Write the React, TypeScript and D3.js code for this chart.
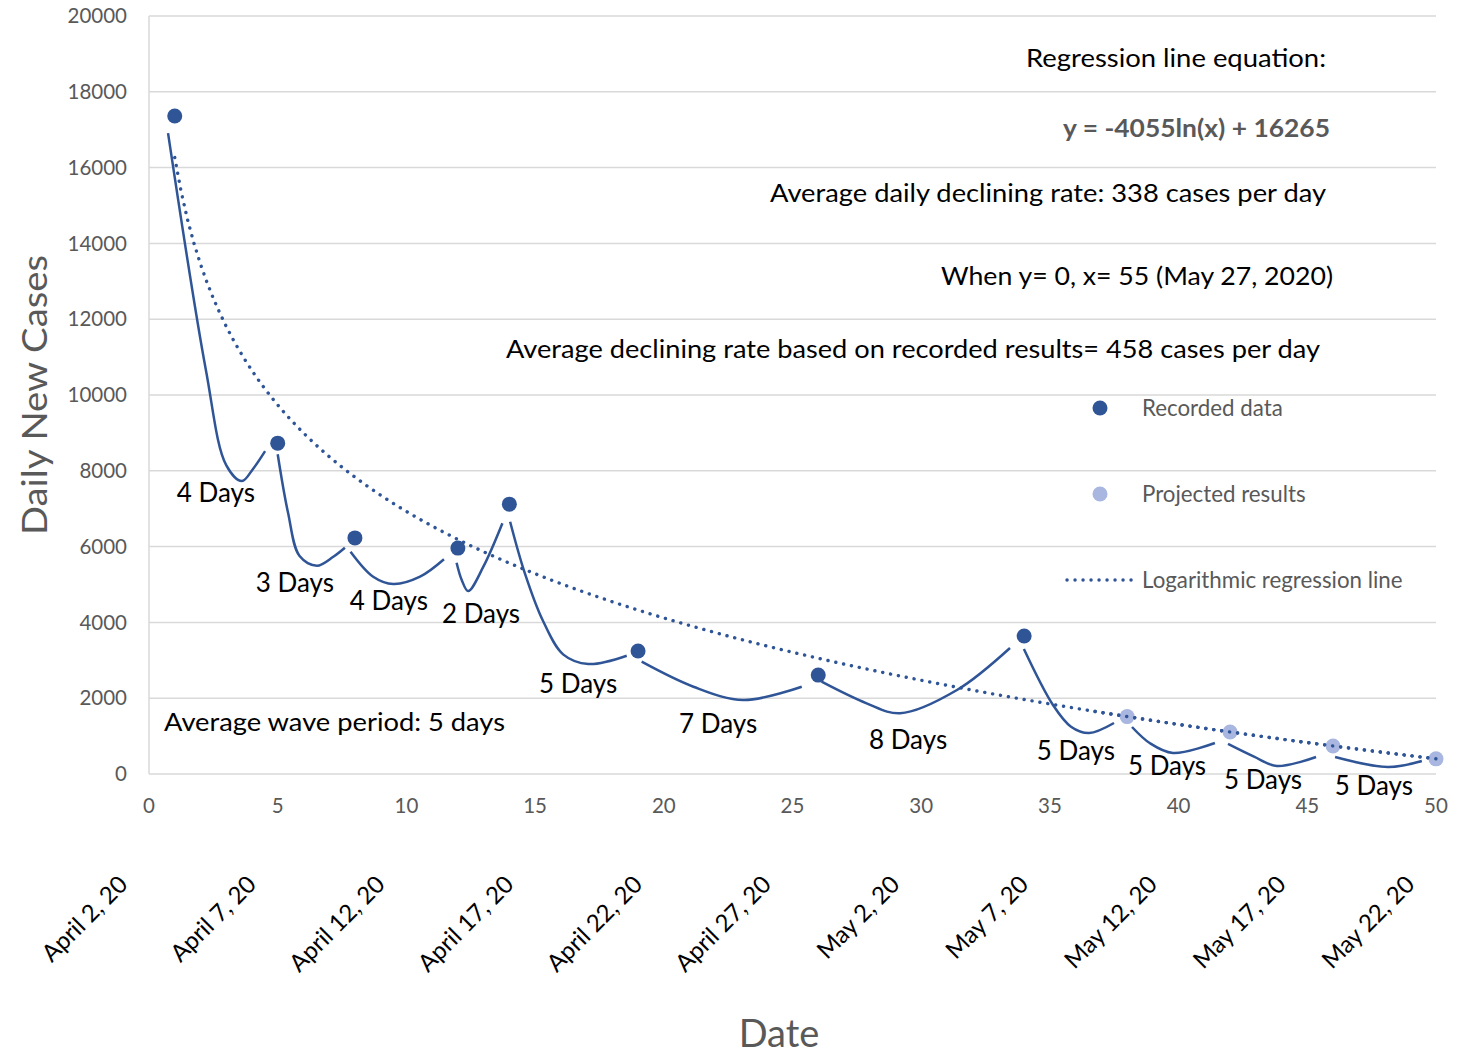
import React from "react";
import * as d3 from "d3";

// ---------- data ----------
const xTicks = [0, 5, 10, 15, 20, 25, 30, 35, 40, 45, 50];
const yTicks = [0, 2000, 4000, 6000, 8000, 10000, 12000, 14000, 16000, 18000, 20000];
const dateLabels = [
  "April 2, 20", "April 7, 20", "April 12, 20", "April 17, 20", "April 22, 20",
  "April 27, 20", "May 2, 20", "May 7, 20", "May 12, 20", "May 17, 20", "May 22, 20",
];
const dateLabelX = [0, 5, 10, 15, 20, 25, 30, 35, 40, 45, 50];

const recordedX = [1, 5, 8, 12, 14, 19, 26, 34];
const recordedY = [17360, 8730, 6230, 5960, 7120, 3245, 2610, 3640];
const projectedX = [38, 42, 46, 50];
const projectedY = [1515, 1110, 740, 400];

// logarithmic regression y = a ln(x) + b (as printed on the chart)
const regA = -4055;
const regB = 16265;
const regX = d3.range(1, 50.01, 0.25);

// hand-drawn wave segments [x, y]
const waves: [number, number][][] = [
  [[0.74, 16910], [2.21, 10660], [3.0, 8150], [3.61, 7730], [4.04, 8050], [4.51, 8520]],
  [[5.0, 8435], [5.4, 6900], [5.85, 5750], [6.52, 5496], [7.16, 5733], [7.61, 5971]],
  [[7.83, 5866], [8.71, 5206], [9.49, 5013], [10.53, 5206], [11.46, 5665]],
  [[11.95, 5575], [12.15, 5119], [12.4, 4828], [12.99, 5470], [13.73, 6615]],
  [[14.03, 6657], [14.6, 5300], [15.3, 4050], [16.1, 3150], [17.07, 2902], [18.56, 3121]],
  [[19.14, 2963], [21.15, 2303], [23.09, 1952], [25.36, 2303]],
  [[26.13, 2435], [27.88, 1865], [29.18, 1602], [31.39, 2216], [33.45, 3324]],
  [[33.99, 3298], [35.12, 1821], [35.82, 1249], [36.52, 1082], [37.49, 1346]],
  [[38.19, 1240], [38.89, 810], [39.78, 554], [41.41, 818]],
  [[41.92, 792], [42.93, 457], [43.82, 211], [45.34, 449]],
  [[46.08, 449], [48.13, 185], [49.45, 343]],
];

const waveLabels = ["4 Days", "3 Days", "4 Days", "2 Days", "5 Days", "7 Days", "8 Days", "5 Days", "5 Days", "5 Days", "5 Days"];
const waveLabelX = [2.6, 5.67, 9.32, 12.9, 16.67, 22.11, 29.49, 36.01, 39.55, 43.28, 47.59];
const waveLabelY = [7414, 5040, 4565, 4222, 2375, 1319, 897, 607, 211, -158, -317];

// ---------- styles ----------
const FONT = "Lato, 'Open Sans', sans-serif";
const BLUE = "#2F5597";
const LIGHT = "#A9B7E0";
const GREY = "#595959";
const GRID = "#D9D9D9";

export default function App() {
  const W = 1474, H = 1054;
  const x = d3.scaleLinear().domain([0, 50]).range([149, 1436]);
  const y = d3.scaleLinear().domain([0, 20000]).range([774, 16]);

  const waveLine = d3.line<[number, number]>()
    .x((d) => x(d[0]))
    .y((d) => y(d[1]))
    .curve(d3.curveCatmullRom.alpha(0.5));

  const regLine = d3.line<number>()
    .x((d) => x(d))
    .y((d) => y(regA * Math.log(d) + regB));

  const dots = { fill: "none", stroke: BLUE, strokeWidth: 3.4, strokeDasharray: "0.1 7.9", strokeLinecap: "round" as const };

  return (
    <svg width={W} height={H} style={{ position: "absolute", left: 0, top: 0, background: "#fff" }} fontFamily={FONT}>
      <rect width={W} height={H} fill="#fff" />
      {/* gridlines */}
      {yTicks.map((t) => (
        <line key={t} x1={x(0)} x2={x(50)} y1={y(t)} y2={y(t)} stroke={GRID} strokeWidth={1.5} />
      ))}
      <line x1={x(0)} x2={x(0)} y1={y(0)} y2={y(20000)} stroke={GRID} strokeWidth={1.5} />

      {/* y tick labels */}
      {yTicks.map((t) => (
        <text key={t} x={127} y={y(t)} dy="0.35em" textAnchor="end" fontSize={20.5} fill={GREY}>{t}</text>
      ))}
      {/* x tick labels */}
      {xTicks.map((t) => (
        <text key={t} x={x(t)} y={806} dy="0.35em" textAnchor="middle" fontSize={20.5} fill={GREY}>{t}</text>
      ))}
      {/* date labels */}
      {dateLabels.map((s, i) => (
        <text key={s} transform={`translate(${x(dateLabelX[i]) - 20},${886}) rotate(-45)`} textAnchor="end" fontSize={24} fill="#000">{s}</text>
      ))}

      {/* axis titles */}
      <text transform={`translate(47,395) rotate(-90)`} textAnchor="middle" fontSize={34} fill={GREY} textLength={280} lengthAdjust="spacingAndGlyphs">Daily New Cases</text>
      <text x={779} y={1047} textAnchor="middle" fontSize={38} fill={GREY}>Date</text>

      {/* regression line */}
      <path d={regLine(regX) || ""} {...dots} />

      {/* waves */}
      {waves.map((w, i) => (
        <path key={i} d={waveLine(w) || ""} fill="none" stroke={BLUE} strokeWidth={2.5} />
      ))}

      {/* points */}
      {recordedX.map((v, i) => (
        <circle key={i} cx={x(v)} cy={y(recordedY[i])} r={7.5} fill={BLUE} />
      ))}
      {projectedX.map((v, i) => (
        <circle key={i} cx={x(v)} cy={y(projectedY[i])} r={7.5} fill={LIGHT} />
      ))}
      {/* regression dots drawn over projected points */}
      <path d={regLine(regX) || ""} {...dots} clipPath="url(#projClip)" />
      <defs>
        <clipPath id="projClip">
          <rect x={x(36.5)} y={0} width={x(50.5) - x(36.5)} height={H} />
        </clipPath>
      </defs>

      {/* wave labels */}
      {waveLabels.map((s, i) => (
        <text key={i} x={x(waveLabelX[i])} y={y(waveLabelY[i])} dy="0.35em" textAnchor="middle" fontSize={26} fill="#000">{s}</text>
      ))}

      {/* annotations */}
      <g fontSize={25.5} fill="#000">
        <text x={1326} y={58} dy="0.35em" textAnchor="end" textLength={300} lengthAdjust="spacingAndGlyphs">Regression line equation:</text>
        <text x={1330} y={128} dy="0.35em" textAnchor="end" fontWeight="bold" fill={GREY} textLength={267} lengthAdjust="spacingAndGlyphs">y = -4055ln(x) + 16265</text>
        <text x={1326} y={193} dy="0.35em" textAnchor="end" textLength={556} lengthAdjust="spacingAndGlyphs">Average daily declining rate: 338 cases per day</text>
        <text x={1333} y={276} dy="0.35em" textAnchor="end" textLength={392} lengthAdjust="spacingAndGlyphs">When y= 0, x= 55 (May 27, 2020)</text>
        <text x={1320} y={349} dy="0.35em" textAnchor="end" textLength={814} lengthAdjust="spacingAndGlyphs">Average declining rate based on recorded results= 458 cases per day</text>
        <text x={164} y={722} dy="0.35em" textLength={341} lengthAdjust="spacingAndGlyphs">Average wave period: 5 days</text>
      </g>

      {/* legend */}
      <g fontSize={22.3} fill={GREY}>
        <circle cx={1100} cy={408} r={7.5} fill={BLUE} />
        <text x={1142} y={408} dy="0.35em">Recorded data</text>
        <circle cx={1100} cy={494} r={7.5} fill={LIGHT} />
        <text x={1142} y={494} dy="0.35em">Projected results</text>
        <line x1={1067} x2={1135} y1={580} y2={580} {...dots} />
        <text x={1142} y={580} dy="0.35em">Logarithmic regression line</text>
      </g>
    </svg>
  );
}
